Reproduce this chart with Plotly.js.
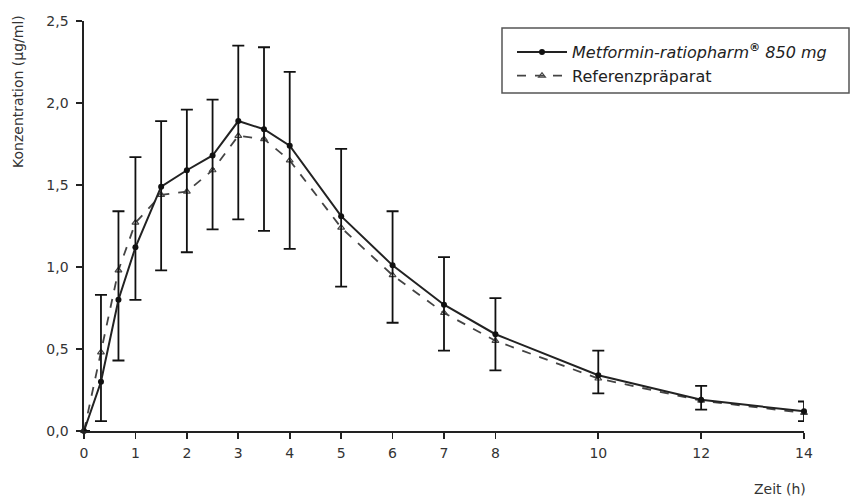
<!DOCTYPE html>
<html>
<head>
<meta charset="utf-8">
<script src="https://cdn.plot.ly/plotly-3.0.1.min.js"></script>
<style>html,body{margin:0;padding:0;background:#fff;}#chart{width:857px;height:497px;}</style>
</head>
<body>
<div id="chart"></div>
<script>
// Time points (h)
const zeit = [0, 0.33, 0.67, 1, 1.5, 2, 2.5, 3, 3.5, 4, 5, 6, 7, 8, 10, 12, 14];
// Metformin-ratiopharm 850 mg mean concentration (µg/ml)
const metformin = [0, 0.30, 0.80, 1.12, 1.49, 1.59, 1.68, 1.89, 1.84, 1.74, 1.31, 1.01, 0.77, 0.59, 0.34, 0.19, 0.12];
// Referenzpräparat mean concentration (µg/ml)
const referenz = [0, 0.48, 0.98, 1.27, 1.44, 1.46, 1.59, 1.80, 1.78, 1.65, 1.24, 0.95, 0.72, 0.55, 0.32, 0.185, 0.11];
// Error bar extent above / below the Metformin mean
const errPlus  = [0, 0.53, 0.54, 0.55, 0.40, 0.37, 0.34, 0.46, 0.50, 0.45, 0.41, 0.33, 0.29, 0.22, 0.15, 0.085, 0.06];
const errMinus = [0, 0.24, 0.37, 0.32, 0.51, 0.50, 0.45, 0.60, 0.62, 0.63, 0.43, 0.35, 0.28, 0.22, 0.11, 0.06, 0.06];
// Tick labels
const xTicks = [0, 1, 2, 3, 4, 5, 6, 7, 8, 10, 12, 14];
const yTicks = [0, 0.5, 1.0, 1.5, 2.0, 2.5];
const yTickText = ['0,0', '0,5', '1,0', '1,5', '2,0', '2,5'];

const FONT = 'DejaVu Sans, Verdana, sans-serif';

const traces = [
  {
    x: zeit, y: referenz, type: 'scatter', mode: 'lines+markers',
    name: 'Referenzpräparat',
    line: {color: '#444', width: 1.8, dash: 'dash'},
    marker: {symbol: 'triangle-up-open', size: 6, color: '#444', line: {width: 1.2, color: '#444'}},
    cliponaxis: false
  },
  {
    x: zeit, y: metformin, type: 'scatter', mode: 'lines+markers',
    name: '<i>Metformin-ratiopharm<sup><b>®</b></sup> 850 mg</i>',
    line: {color: '#222', width: 2},
    marker: {symbol: 'circle', size: 6, color: '#111'},
    error_y: {type: 'data', symmetric: false, array: errPlus, arrayminus: errMinus,
              color: '#111', thickness: 1.8, width: 6},
    cliponaxis: false
  }
];

const L = 84, R = 804, T = 21, B = 431;
const W = R - L, H = B - T;
const px = v => (v - L) / W;
const py = v => (B - v) / H;

const layout = {
  width: 857, height: 497,
  margin: {l: L, r: 857 - R, t: T, b: 497 - B, pad: 0},
  paper_bgcolor: '#fff', plot_bgcolor: '#fff',
  font: {family: FONT, size: 14, color: '#222'},
  separators: ',.',
  showlegend: true,
  legend: {
    x: px(512), y: py(35), xanchor: 'left', yanchor: 'top',
    bgcolor: 'rgba(0,0,0,0)', borderwidth: 0,
    font: {family: FONT, size: 16, color: '#222'},
    traceorder: 'reversed', itemwidth: 50, tracegroupgap: 0
  },
  xaxis: {
    range: [0, 14], tickmode: 'array', tickvals: xTicks,
    showline: true, linecolor: '#222', linewidth: 1.6,
    ticks: 'outside', ticklen: 6, tickwidth: 1.6, tickcolor: '#222',
    showgrid: false, zeroline: false,
    tickfont: {family: FONT, size: 14, color: '#333'}, ticklabelstandoff: 3
  },
  yaxis: {
    range: [0, 2.5], tickmode: 'array', tickvals: yTicks, ticktext: yTickText,
    showline: true, linecolor: '#222', linewidth: 1.6,
    ticks: 'outside', ticklen: 6, tickwidth: 1.6, tickcolor: '#222',
    showgrid: false, zeroline: false,
    tickfont: {family: FONT, size: 14, color: '#333'}, ticklabelstandoff: 5
  },
  shapes: [
    {type: 'rect', xref: 'paper', yref: 'paper',
     x0: px(502), x1: px(849), y0: py(93), y1: py(28),
     line: {color: '#555', width: 1.5}, fillcolor: 'rgba(0,0,0,0)'}
  ],
  annotations: [
    {text: 'Konzentration (µg/ml)', xref: 'paper', yref: 'paper',
     x: px(18), y: py(92), xanchor: 'center', yanchor: 'middle', textangle: -90,
     showarrow: false, font: {family: FONT, size: 14, color: '#333'}},
    {text: 'Zeit (h)', xref: 'paper', yref: 'paper',
     x: px(808), y: py(489), xanchor: 'right', yanchor: 'middle',
     showarrow: false, font: {family: FONT, size: 14, color: '#333'}}
  ]
};

Plotly.newPlot('chart', traces, layout, {staticPlot: true, displayModeBar: false});
</script>
</body>
</html>
